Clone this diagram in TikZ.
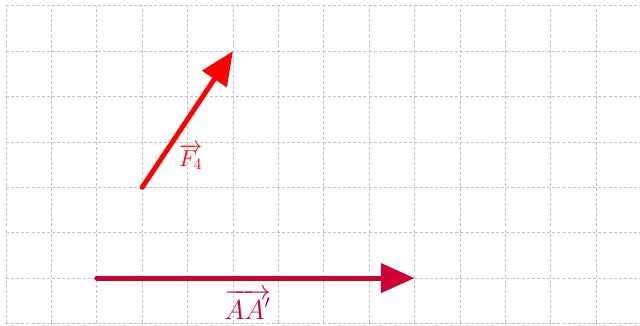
\documentclass[tikz,border=0pt]{standalone}
\usetikzlibrary{arrows.meta}
\definecolor{vecred}{RGB}{255,0,0}
\definecolor{veccrim}{RGB}{204,0,51}
\definecolor{gridgray}{RGB}{195,195,195}
\begin{document}
\begin{tikzpicture}[
  gridline/.style={gridgray, line width=0.5pt, dash pattern=on 1.9pt off 1.3pt},
  vecline/.style={line width=3.1pt, line cap=round, -{Triangle[length=0.74cm, width=0.63cm]}},
  veclabel/.style={inner sep=0pt}
]
\useasboundingbox (-0.132,-0.033) rectangle (13.965,7.126);
\draw[gridline] (0,0) grid (14,7);
\coordinate (F0) at (3,3);
\coordinate (F1) at (5,6);
\coordinate (A0) at (2,1);
\coordinate (A1) at (9,1);
\draw[vecline, vecred] (F0) -- (F1);
\draw[vecline, veccrim] (A0) -- (A1);
\node[veclabel, text=vecred, font=\Large] (lf) at (4.07,3.67) {$\overrightarrow{F_4}$};
\node[veclabel, text=veccrim, font=\LARGE] (la) at (5.32,0.42) {$\overrightarrow{AA'}$};
\end{tikzpicture}
\end{document}
